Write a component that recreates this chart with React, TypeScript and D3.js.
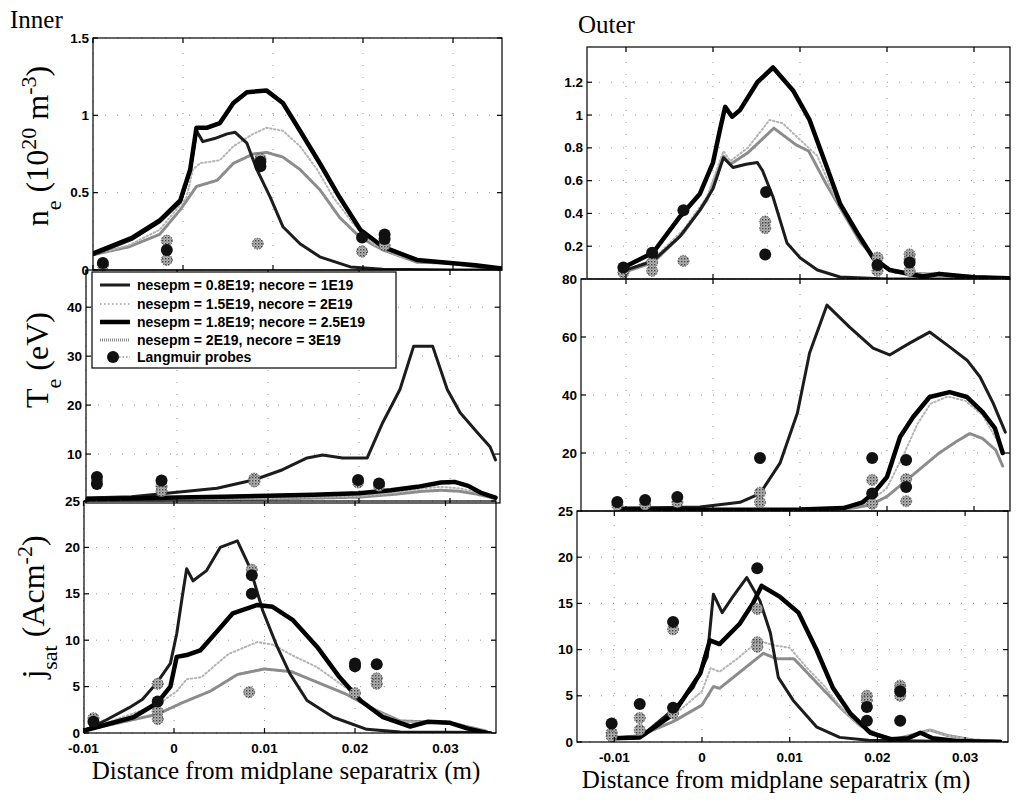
import React from 'react'
import * as d3 from 'd3'

type Pt = [number, number]

// legend text, one per model run
const runLabels = [
  'nesepm = 0.8E19; necore = 1E19',
  'nesepm = 1.5E19, necore = 2E19',
  'nesepm = 1.8E19; necore = 2.5E19',
  'nesepm = 2E19, necore = 3E19',
]
const probeLabel = 'Langmuir probes'

const xTicks = [-0.01, 0, 0.01, 0.02, 0.03]

// ---- inner divertor ----
const neIn1: Pt[] = [[-0.0099,0.1],[-0.0056,0.2],[-0.0026,0.31],[-0.0003,0.44],[0.0008,0.64],[0.0015,0.9],[0.0022,0.83],[0.0035,0.85],[0.0049,0.88],[0.0058,0.89],[0.0071,0.82],[0.0082,0.65],[0.0097,0.47],[0.0111,0.28],[0.013,0.17],[0.0152,0.085],[0.0186,0.02],[0.0222,0.005],[0.03,0],[0.0355,0]]
const neIn2: Pt[] = [[-0.0099,0.1],[-0.006,0.16],[-0.0026,0.26],[0.0004,0.47],[0.0011,0.65],[0.0019,0.69],[0.0041,0.71],[0.0056,0.8],[0.0078,0.88],[0.0093,0.92],[0.0111,0.9],[0.013,0.8],[0.0149,0.65],[0.0167,0.47],[0.0189,0.3],[0.0211,0.17],[0.0241,0.085],[0.0278,0.05],[0.0308,0.045],[0.0355,0.01]]
const neIn3: Pt[] = [[-0.0099,0.11],[-0.0056,0.21],[-0.0026,0.32],[-0.0003,0.45],[0.0008,0.65],[0.0015,0.92],[0.0027,0.92],[0.0041,0.95],[0.0056,1.08],[0.0071,1.15],[0.0093,1.16],[0.0111,1.08],[0.013,0.9],[0.0152,0.69],[0.0174,0.47],[0.0197,0.26],[0.0222,0.15],[0.026,0.065],[0.0297,0.045],[0.0325,0.03],[0.0355,0.01]]
const neIn4: Pt[] = [[-0.0099,0.1],[-0.006,0.15],[-0.0026,0.23],[-0.0003,0.39],[0.0015,0.54],[0.0038,0.58],[0.0056,0.69],[0.0078,0.75],[0.0093,0.76],[0.0111,0.73],[0.013,0.65],[0.0152,0.52],[0.0174,0.34],[0.0197,0.21],[0.0222,0.13],[0.026,0.05],[0.0297,0.045],[0.0333,0.015],[0.0355,0.005]]
const neInProbeB: Pt[] = [[-0.0089,0.045],[-0.0018,0.13],[0.0086,0.67],[0.0086,0.7],[0.0199,0.21],[0.0224,0.23],[0.0224,0.2]]
const neInProbeG: Pt[] = [[-0.0089,0.03],[-0.0018,0.19],[-0.0018,0.065],[0.0083,0.17],[0.0086,0.72],[0.0199,0.12],[0.0224,0.16]]

const teIn1: Pt[] = [[-0.01,1.0],[-0.005,1.3],[-0.0011,2],[0.0044,3],[0.0084,4.7],[0.0116,6.8],[0.0143,9.2],[0.016,9.8],[0.0182,9.2],[0.0209,9.2],[0.0226,16.4],[0.0245,23.2],[0.026,32],[0.0281,32],[0.0297,23.2],[0.0311,18.5],[0.033,14.4],[0.0344,11.5],[0.035,8.8]]
const teIn2: Pt[] = [[-0.01,0.6],[0,0.8],[0.01,1.0],[0.02,1.4],[0.024,2.1],[0.027,3],[0.029,3.3],[0.031,3],[0.033,2.2],[0.035,1.2]]
const teIn3: Pt[] = [[-0.01,0.8],[-0.005,0.9],[0,1.1],[0.005,1.3],[0.01,1.5],[0.015,1.7],[0.02,2],[0.0235,2.6],[0.0264,3.3],[0.029,4.2],[0.0305,4.3],[0.032,3.5],[0.0335,2],[0.035,1.1]]
const teIn4: Pt[] = [[-0.01,0.5],[0,0.6],[0.01,0.8],[0.02,1.2],[0.024,1.8],[0.027,2.4],[0.029,2.6],[0.031,2.4],[0.033,1.8],[0.035,0.9]]
const teInProbeB: Pt[] = [[-0.0088,5.3],[-0.0088,3.9],[-0.0017,4.6],[0.0199,4.7],[0.0222,4]]
const teInProbeG: Pt[] = [[-0.0088,4.6],[-0.0017,3.4],[-0.0017,2.4],[0.0085,5],[0.0085,4.4],[0.0199,4.2],[0.0222,3.5]]

const jIn1: Pt[] = [[-0.0098,0.3],[-0.0075,1.4],[-0.005,2.7],[-0.0035,3.6],[-0.0019,5.4],[-0.0004,7.5],[0.0003,10.7],[0.0009,14.6],[0.0014,17.7],[0.0021,16.4],[0.0036,17.5],[0.0051,20],[0.007,20.7],[0.0084,17.8],[0.0098,13.2],[0.0114,9.3],[0.0128,6.4],[0.0147,3.5],[0.0176,1.7],[0.0213,0.4],[0.025,0.1],[0.035,0.05]]
const jIn2: Pt[] = [[-0.0098,0.3],[-0.0019,3],[0.0003,4.5],[0.0014,5.8],[0.003,6],[0.006,8.5],[0.0092,9.8],[0.011,9.5],[0.013,8.4],[0.0158,7.1],[0.0194,4.6],[0.022,2.5],[0.025,1.2],[0.028,1.2],[0.031,1],[0.0345,0.2]]
const jIn3: Pt[] = [[-0.0098,0.3],[-0.0045,1.7],[-0.0019,3.2],[-0.0004,5],[0.0003,8.2],[0.0014,8.4],[0.0029,8.9],[0.0048,11],[0.0065,12.9],[0.0092,13.8],[0.0109,13.6],[0.0131,12.2],[0.0158,9.3],[0.0183,6],[0.0206,3.5],[0.0231,1.7],[0.0261,0.7],[0.028,1.2],[0.0305,1.1],[0.0324,0.5],[0.0346,0]]
const jIn4: Pt[] = [[-0.0098,0.3],[-0.0019,2],[0.001,3.3],[0.004,4.5],[0.007,6.3],[0.01,6.9],[0.013,6.6],[0.016,5.4],[0.019,4.2],[0.022,2.6],[0.025,1.3],[0.028,1.2],[0.031,1],[0.0345,0.2]]
const jInProbeB: Pt[] = [[-0.0089,1.2],[-0.0018,3.4],[0.0086,17],[0.0086,15],[0.02,7.5],[0.02,7.2],[0.0224,7.4]]
const jInProbeG: Pt[] = [[-0.0089,1.6],[-0.0018,5.3],[-0.0018,2.3],[-0.0018,1.5],[0.0086,17.6],[0.0083,4.4],[0.02,4.3],[0.0224,5.9],[0.0224,5.3]]

// ---- outer divertor ----
const neOut1: Pt[] = [[-0.0103,0.05],[-0.0069,0.11],[-0.0038,0.26],[-0.0015,0.42],[0,0.55],[0.0012,0.74],[0.0023,0.68],[0.0038,0.7],[0.0051,0.71],[0.0057,0.66],[0.0069,0.5],[0.0085,0.22],[0.01,0.13],[0.012,0.055],[0.0146,0.012],[0.02,0],[0.034,0]]
const neOut2: Pt[] = [[-0.0103,0.05],[-0.0069,0.12],[-0.0034,0.3],[-0.0007,0.5],[0.0012,0.78],[0.002,0.72],[0.004,0.8],[0.0065,0.97],[0.008,0.95],[0.01,0.85],[0.012,0.75],[0.014,0.5],[0.016,0.32],[0.018,0.15],[0.02,0.06],[0.024,0.03],[0.026,0.04],[0.03,0.015],[0.034,0.005]]
const neOut3: Pt[] = [[-0.0103,0.07],[-0.0069,0.16],[-0.0038,0.38],[-0.0015,0.52],[0,0.71],[0.0008,0.91],[0.0014,1.05],[0.0022,0.99],[0.0031,1.03],[0.0051,1.2],[0.0069,1.29],[0.0092,1.15],[0.0111,0.97],[0.0131,0.68],[0.0146,0.46],[0.0166,0.28],[0.0184,0.13],[0.0203,0.055],[0.0241,0.015],[0.026,0.03],[0.03,0.01],[0.034,0.005]]
const neOut4: Pt[] = [[-0.0103,0.04],[-0.0069,0.1],[-0.0034,0.28],[-0.0007,0.48],[0.0012,0.75],[0.002,0.7],[0.004,0.77],[0.007,0.92],[0.0095,0.82],[0.011,0.78],[0.013,0.58],[0.015,0.4],[0.017,0.22],[0.019,0.1],[0.021,0.04],[0.025,0.03],[0.03,0.015],[0.034,0.005]]
const neOutProbeB: Pt[] = [[-0.0103,0.07],[-0.007,0.16],[-0.0034,0.42],[0.0061,0.53],[0.006,0.15],[0.0189,0.085],[0.0226,0.1]]
const neOutProbeG: Pt[] = [[-0.0103,0.04],[-0.007,0.05],[-0.007,0.1],[-0.0034,0.11],[0.006,0.35],[0.006,0.31],[0.0189,0.13],[0.0189,0.05],[0.0226,0.15],[0.0226,0.12],[0.0226,0.05]]

const teOut1: Pt[] = [[-0.0107,1],[-0.005,1.2],[-0.0015,1.4],[0.0031,3],[0.0054,6],[0.0077,16.5],[0.0097,33.8],[0.0111,54.5],[0.0131,71],[0.0157,63.4],[0.0184,56.2],[0.0203,53.8],[0.0226,57.9],[0.0249,61.7],[0.0272,56.6],[0.0292,52],[0.0307,46.2],[0.0322,37.2],[0.0336,27.2]]
const teOut2: Pt[] = [[-0.0107,0.4],[0,0.3],[0.01,0.4],[0.016,1.5],[0.018,3],[0.02,8],[0.022,20],[0.0235,30],[0.025,37],[0.027,39.5],[0.029,38],[0.031,33],[0.0333,21]]
const teOut3: Pt[] = [[-0.0107,0.5],[0,0.4],[0.01,0.5],[0.015,1],[0.0172,3],[0.0184,6],[0.02,11.7],[0.0215,25.5],[0.023,32.4],[0.0249,39.3],[0.0272,41],[0.0292,39.3],[0.031,34.1],[0.0324,28.6],[0.0333,20]]
const teOut4: Pt[] = [[-0.0107,0.3],[0,0.2],[0.01,0.3],[0.016,1],[0.018,2],[0.02,5],[0.022,10],[0.024,15],[0.026,20],[0.028,24],[0.0295,26.7],[0.031,25],[0.0325,21],[0.0333,15.5]]
const teOutProbeB: Pt[] = [[-0.011,3.1],[-0.0078,3.8],[-0.0041,4.8],[0.0054,18.3],[0.0183,18.3],[0.0183,6],[0.0222,17.6],[0.0222,8.3]]
const teOutProbeG: Pt[] = [[-0.011,2],[-0.0078,2.2],[-0.0041,3],[0.0054,6.3],[0.0054,3],[0.0183,10.7],[0.0183,2.5],[0.0222,11],[0.0222,3.4]]

const jOut1: Pt[] = [[-0.0103,0.4],[-0.0071,0.5],[-0.0033,3.5],[-0.001,5.9],[0.0006,9.2],[0.0013,16],[0.0023,14],[0.0035,15.7],[0.0051,17.8],[0.0066,15.3],[0.0078,11.8],[0.0087,7],[0.0104,4.5],[0.0131,1.6],[0.0157,0.5],[0.019,0.2],[0.025,0.1],[0.034,0]]
const jOut2: Pt[] = [[-0.0103,0.4],[-0.0071,0.7],[-0.0033,2.8],[0,5.5],[0.001,8],[0.002,7.6],[0.004,9],[0.0065,11],[0.008,10.5],[0.01,10.2],[0.012,8],[0.014,6],[0.016,3.5],[0.018,1.8],[0.02,0.8],[0.022,0.3],[0.0245,0.8],[0.026,1.3],[0.028,0.7],[0.031,0.2],[0.034,0.1]]
const jOut3: Pt[] = [[-0.0103,0.4],[-0.0071,0.5],[-0.0033,3],[-0.0002,7.4],[0.0009,11],[0.002,10.6],[0.0043,12.8],[0.0058,15],[0.0068,16.9],[0.0089,15.7],[0.011,14],[0.0131,9.9],[0.0149,5.9],[0.0169,3.1],[0.0192,1],[0.0215,0.3],[0.0235,0.4],[0.0249,1],[0.0263,0.4],[0.029,0.1],[0.034,0]]
const jOut4: Pt[] = [[-0.0103,0.4],[-0.0071,0.7],[-0.0033,2.2],[0,4],[0.0013,6],[0.002,5.8],[0.0045,7.7],[0.007,9.6],[0.0085,9],[0.0105,9],[0.012,7.5],[0.014,5.5],[0.016,3.5],[0.018,1.8],[0.02,0.8],[0.022,0.3],[0.0245,0.9],[0.026,1.3],[0.028,0.7],[0.031,0.2],[0.034,0.1]]
const jOutProbeB: Pt[] = [[-0.0103,2],[-0.0071,4.1],[-0.0033,3.7],[-0.0033,13],[0.0063,18.8],[0.0188,3.8],[0.0188,2.3],[0.0226,2.3],[0.0226,5.5]]
const jOutProbeG: Pt[] = [[-0.0103,1],[-0.0103,0.6],[-0.0071,2.6],[-0.0071,1.3],[-0.0033,12.2],[-0.0033,3.1],[0.0063,14.4],[0.0063,10.8],[0.0063,10.3],[0.0188,5],[0.0188,4.5],[0.0226,6.1],[0.0226,5.7],[0.0226,5]]

// line looks, same order as runLabels
const runStyles = [
  { stroke: '#1c1c1c', width: 3, dash: undefined as string | undefined },
  { stroke: '#b4b4b4', width: 2, dash: '1.5 2.5' },
  { stroke: '#000', width: 4.5, dash: undefined },
  { stroke: '#8c8c8c', width: 3, dash: '1 1' },
]
const drawOrder = [3, 1, 0, 2]

const SERIF = '"Liberation Serif", "DejaVu Serif", serif'
const SANS = '"Liberation Sans", Arial, sans-serif'

type PanelCfg = {
  id: string
  left: number
  right: number
  top: number
  bottom: number
  x0: number // pixel of x = 0
  k: number // pixels per 0.01 m
  yMax: number
  yTicks: number[]
  xLabels?: boolean
  runs: Pt[][]
  black: Pt[]
  gray: Pt[]
}

const panels: PanelCfg[] = [
  { id: 'neIn', left: 93, right: 502, top: 38, bottom: 270, x0: 183, k: 90, yMax: 1.5, yTicks: [0, 0.5, 1, 1.5],
    runs: [neIn1, neIn2, neIn3, neIn4], black: neInProbeB, gray: neInProbeG },
  { id: 'teIn', left: 86, right: 500, top: 270, bottom: 503, x0: 177, k: 91, yMax: 47.6, yTicks: [10, 20, 30, 40],
    runs: [teIn1, teIn2, teIn3, teIn4], black: teInProbeB, gray: teInProbeG },
  { id: 'jIn', left: 84, right: 496, top: 501, bottom: 733, x0: 174, k: 90.5, yMax: 25, yTicks: [0, 5, 10, 15, 20, 25], xLabels: true,
    runs: [jIn1, jIn2, jIn3, jIn4], black: jInProbeB, gray: jInProbeG },
  { id: 'neOut', left: 587, right: 1010, top: 47, bottom: 279, x0: 713, k: 87, yMax: 1.415, yTicks: [0.2, 0.4, 0.6, 0.8, 1, 1.2],
    runs: [neOut1, neOut2, neOut3, neOut4], black: neOutProbeB, gray: neOutProbeG },
  { id: 'teOut', left: 581, right: 1010, top: 279, bottom: 511, x0: 713, k: 87, yMax: 80, yTicks: [20, 40, 60, 80],
    runs: [teOut1, teOut2, teOut3, teOut4], black: teOutProbeB, gray: teOutProbeG },
  { id: 'jOut', left: 577, right: 1008, top: 511, bottom: 742, x0: 702, k: 87.7, yMax: 25, yTicks: [0, 5, 10, 15, 20, 25], xLabels: true,
    runs: [jOut1, jOut2, jOut3, jOut4], black: jOutProbeB, gray: jOutProbeG },
]

function Panel({ p }: { p: PanelCfg }) {
  const x = d3
    .scaleLinear()
    .domain([((p.left - p.x0) / p.k) * 0.01, ((p.right - p.x0) / p.k) * 0.01])
    .range([p.left, p.right])
  const y = d3.scaleLinear().domain([0, p.yMax]).range([p.bottom, p.top])
  const line = d3
    .line<Pt>()
    .x((d) => x(d[0]))
    .y((d) => y(d[1]))
  const fmt = (v: number) => (v === 0 ? '0' : String(+v.toFixed(2)))

  return (
    <g>
      <clipPath id={'clip-' + p.id}>
        <rect x={p.left} y={p.top} width={p.right - p.left} height={p.bottom - p.top} />
      </clipPath>
      {/* dotted grid, very faint like the scan */}
      <g stroke="#999" strokeWidth={1} strokeDasharray="1 11">
        {xTicks.map((t) => (
          <line key={'gx' + t} x1={x(t)} x2={x(t)} y1={p.bottom} y2={p.top} />
        ))}
        {p.yTicks.map((t) => (
          <line key={'gy' + t} x1={p.left} x2={p.right} y1={y(t)} y2={y(t)} />
        ))}
      </g>
      <g clipPath={`url(#clip-${p.id})`} fill="none" strokeLinejoin="round" strokeLinecap="round">
        {drawOrder.map((i) => (
          <path
            key={i}
            d={line(p.runs[i]) || ''}
            stroke={runStyles[i].stroke}
            strokeWidth={runStyles[i].width}
            strokeDasharray={runStyles[i].dash}
          />
        ))}
      </g>
      <g>
        {p.gray.map((d, i) => (
          <circle key={'g' + i} cx={x(d[0])} cy={y(d[1])} r={5.5} fill="url(#speckle)" stroke="#555" strokeWidth={1} strokeDasharray="1.5 1.2" />
        ))}
        {p.black.map((d, i) => (
          <circle key={'b' + i} cx={x(d[0])} cy={y(d[1])} r={6} fill="#111" />
        ))}
      </g>
      {/* frame */}
      <rect x={p.left} y={p.top} width={p.right - p.left} height={p.bottom - p.top} fill="none" stroke="#000" strokeWidth={1.2} />
      <g stroke="#000" strokeWidth={1.2}>
        {xTicks.map((t) => (
          <g key={'tx' + t}>
            <line x1={x(t)} x2={x(t)} y1={p.bottom} y2={p.bottom - 5} />
            <line x1={x(t)} x2={x(t)} y1={p.top} y2={p.top + 5} />
          </g>
        ))}
        {p.yTicks.map((t) => (
          <g key={'ty' + t}>
            <line x1={p.left} x2={p.left + 5} y1={y(t)} y2={y(t)} />
            <line x1={p.right} x2={p.right - 5} y1={y(t)} y2={y(t)} />
          </g>
        ))}
      </g>
      <g fontFamily={SANS} fontWeight="bold" fontSize={13.5} fill="#000">
        {p.yTicks.map((t) => (
          <text key={'ly' + t} x={p.left - 4} y={y(t) + 4.5} textAnchor="end">
            {fmt(t)}
          </text>
        ))}
        {p.xLabels &&
          xTicks.map((t) => (
            <text key={'lx' + t} x={x(t)} y={p.bottom + 20} textAnchor="middle">
              {fmt(t)}
            </text>
          ))}
      </g>
    </g>
  )
}

function Legend() {
  const rows = [285, 304, 322, 340, 357]
  return (
    <g>
      <rect x={92} y={272} width={304} height={96} fill="#fff" stroke="#000" strokeWidth={1.2} />
      {runLabels.map((lab, i) => (
        <g key={lab}>
          <line
            x1={100}
            x2={130}
            y1={rows[i]}
            y2={rows[i]}
            stroke={runStyles[i].stroke}
            strokeWidth={runStyles[i].width}
            strokeDasharray={runStyles[i].dash}
          />
          <text x={137} y={rows[i] + 5} fontFamily={SANS} fontWeight="bold" fontSize={14}>
            {lab}
          </text>
        </g>
      ))}
      <line x1={119} x2={130} y1={rows[4]} y2={rows[4]} stroke="#555" strokeDasharray="1.5 2" />
      <circle cx={113} cy={rows[4]} r={6} fill="#111" />
      <text x={137} y={rows[4] + 5} fontFamily={SANS} fontWeight="bold" fontSize={14}>
        {probeLabel}
      </text>
    </g>
  )
}

export default function App() {
  return (
    <svg
      width={1016}
      height={802}
      style={{ position: 'absolute', left: 0, top: 0, background: '#fff' }}
    >
      <defs>
        <pattern id="speckle" width={3} height={3} patternUnits="userSpaceOnUse">
          <rect width={3} height={3} fill="#b4b4b4" />
          <rect width={1.4} height={1.4} fill="#444" />
          <rect x={1.6} y={1.6} width={1} height={1} fill="#777" />
        </pattern>
      </defs>
      <rect width={1016} height={802} fill="#fff" />
      {panels.map((p) => (
        <Panel key={p.id} p={p} />
      ))}
      <Legend />

      <g fontFamily={SERIF} fill="#000">
        <text x={10} y={28} fontSize={25}>Inner</text>
        <text x={578} y={33} fontSize={25}>Outer</text>

        <text transform="translate(48,146) rotate(-90)" textAnchor="middle" fontSize={32}>
          n<tspan baselineShift="sub" fontSize={22}>e</tspan> (10<tspan baselineShift="super" fontSize={22}>20</tspan> m<tspan baselineShift="super" fontSize={22}>-3</tspan>)
        </text>
        <text transform="translate(48,360) rotate(-90)" textAnchor="middle" fontSize={32}>
          T<tspan baselineShift="sub" fontSize={22}>e</tspan> (eV)
        </text>
        <text transform="translate(44,607) rotate(-90)" textAnchor="middle" fontSize={32}>
          j<tspan baselineShift="sub" fontSize={22}>sat</tspan> (Acm<tspan baselineShift="super" fontSize={22}>-2</tspan>)
        </text>

        <text x={286} y={779} textAnchor="middle" fontSize={25}>
          Distance from midplane separatrix (m)
        </text>
        <text x={776} y={788} textAnchor="middle" fontSize={25}>
          Distance from midplane separatrix (m)
        </text>
      </g>
    </svg>
  )
}
